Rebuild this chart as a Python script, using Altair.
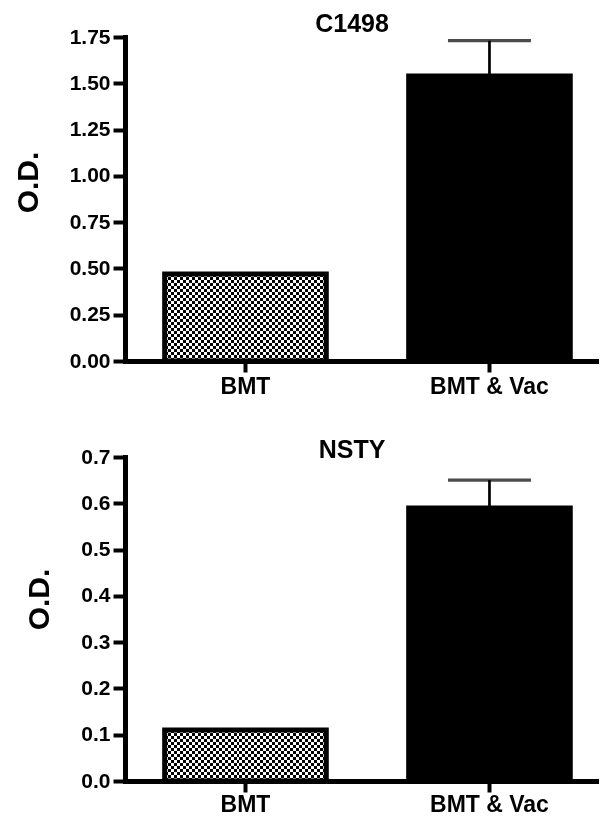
import altair as alt
import pandas as pd

# ---- data ----
groups = ["BMT", "BMT & Vac"]
c1498_mean = [0.47, 1.54]
c1498_sem = [0.0, 0.19]
nsty_mean = [0.11, 0.59]
nsty_sem = [0.0, 0.06]

c1498_ticks = [0.0, 0.25, 0.5, 0.75, 1.0, 1.25, 1.5, 1.75]
nsty_ticks = [0.0, 0.1, 0.2, 0.3, 0.4, 0.5, 0.6, 0.7]

FONT = "Liberation Sans"


def stripes(n, horizontal):
    """hard-stop gradient used to build a checker fill pattern"""
    stops = []
    for i in range(n):
        col = "black" if i % 2 == 0 else "white"
        stops.append({"offset": i / n, "color": col})
        stops.append({"offset": (i + 1) / n, "color": col})
    if horizontal:
        return {"gradient": "linear", "stops": stops, "x1": 0, "x2": 1, "y1": 0, "y2": 0}
    return {"gradient": "linear", "stops": stops, "x1": 0, "x2": 0, "y1": 0, "y2": 1}


def panel(title, means, sems, ymax, ticks, fmt, n_rows, title_offset, ytitle_y, xlab_pad):
    df = pd.DataFrame({"group": groups, "mean": means, "sem": sems})
    df["upper"] = df["mean"] + df["sem"]
    base = alt.Chart(df)
    x = alt.X(
        "group:N",
        sort=groups,
        title=None,
        scale=alt.Scale(paddingInner=0.3377, paddingOuter=0.1402, align=0.58),
        axis=alt.Axis(labelAngle=0, labelFontSize=23, tickSize=11, labelPadding=xlab_pad),
    )
    y = alt.Y(
        "mean:Q",
        title="O.D.",
        scale=alt.Scale(domain=[0, ymax], nice=False, zero=True),
        axis=alt.Axis(values=ticks, format=fmt, labelFontSize=21, tickSize=12,
                      labelPadding=3, titlePadding=26, titleFontSize=30, titleY=ytitle_y),
    )
    bmt = base.transform_filter(alt.datum.group == "BMT")
    layer_a = bmt.mark_bar(fill=stripes(54, True), strokeWidth=0).encode(x=x, y=y)
    layer_b = bmt.mark_bar(fill=stripes(n_rows, False), strokeWidth=0, blend="difference").encode(x=x, y=y)
    black = base.transform_filter(alt.datum.group == "BMT & Vac").mark_bar(
        fill="black", strokeWidth=0).encode(x=x, y=y)
    outline = base.mark_bar(fillOpacity=0, stroke="black", strokeWidth=5).encode(x=x, y=y)
    errs = base.transform_filter(alt.datum.sem > 0)
    whisker = errs.mark_rule(strokeWidth=2.7, color="black").encode(x=x, y="mean:Q", y2="upper:Q")
    cap = errs.mark_tick(size=83, thickness=3.3, color="black").encode(x=x, y="upper:Q")
    return alt.layer(layer_a, layer_b, black, outline, whisker, cap).properties(
        width=474,
        height=324,
        title=alt.TitleParams(text=title, anchor="middle", dx=-10, offset=title_offset),
    )


top = panel("C1498", c1498_mean, c1498_sem, 1.75, c1498_ticks, ".2f", 29, -11, 145, 3)
bottom = panel("NSTY", nsty_mean, nsty_sem, 0.7, nsty_ticks, ".1f", 17, -17, 142, 1)

chart = (
    alt.vconcat(top, bottom, spacing=40)
    .properties(padding={"left": 5, "top": 4, "right": 0, "bottom": 0})
    .configure_view(strokeWidth=0)
    .configure_axis(
        grid=False,
        domainColor="black",
        domainWidth=5,
        domainCap="square",
        tickColor="black",
        tickWidth=4,
        labelFont=FONT,
        labelFontWeight="bold",
        labelColor="black",
        titleFont=FONT,
        titleFontWeight="bold",
        titleColor="black",
    )
    .configure_title(font=FONT, fontSize=25, fontWeight="bold", color="black")
)

chart.save("out.html", embed_options={"renderer": "svg", "actions": False})
